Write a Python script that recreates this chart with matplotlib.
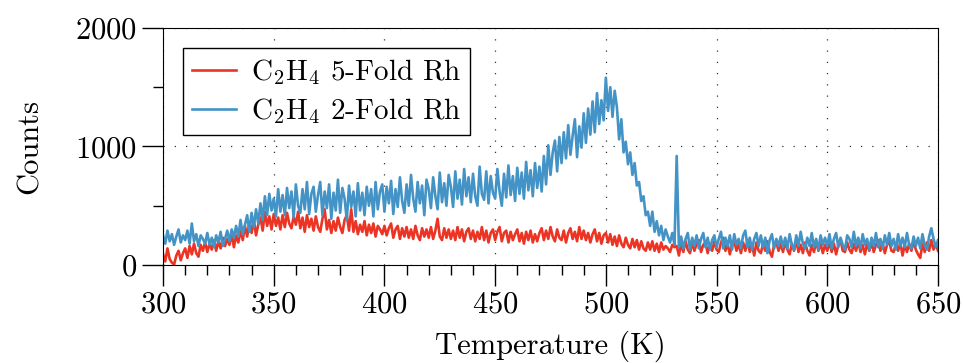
import matplotlib
matplotlib.use("Agg")
import matplotlib.pyplot as plt
import numpy as np
from matplotlib.ticker import MultipleLocator

plt.rcParams['font.family'] = 'serif'
plt.rcParams['font.serif'] = ['cmr10']
plt.rcParams['mathtext.fontset'] = 'cm'
plt.rcParams['axes.formatter.use_mathtext'] = True

# temperature axis, 1 K steps
temps = np.arange(300, 651, 1)

# C2H4 on 2-fold Rh (blue)
counts_2fold = [
    250, 180, 290, 200, 260, 170, 240, 300, 190, 250,
    210, 290, 180, 350, 200, 260, 160, 250, 220, 180,
    270, 170, 230, 150, 250, 190, 280, 160, 220, 290,
    200, 300, 230, 330, 240, 380, 260, 340, 420, 280,
    440, 320, 470, 350, 520, 380, 580, 420, 600, 460,
    560, 410, 640, 450, 590, 420, 650, 480, 620, 400,
    680, 500, 440, 640, 470, 700, 430, 600, 660, 450,
    590, 700, 420, 620, 480, 680, 390, 610, 460, 720,
    440, 650, 560, 380, 670, 490, 620, 410, 690, 460,
    610, 420, 660, 500, 640, 410, 700, 470, 620, 680,
    450, 660, 520, 710, 430, 640, 490, 740, 540, 440,
    680, 500, 760, 560, 450, 700, 520, 670, 420, 720,
    640, 480, 740, 580, 470, 780, 530, 690, 500, 760,
    660, 490, 790, 560, 720, 510, 810, 580, 740, 530,
    770, 580, 500, 830, 600, 550, 790, 520, 750, 610,
    560, 810, 620, 500, 770, 570, 840, 590, 750, 540,
    820, 600, 780, 560, 870, 630, 800, 580, 860, 650,
    830, 620, 920, 680, 1010, 760, 950, 1050, 790, 1080,
    860, 1120, 900, 1180, 930, 1090, 1230, 910, 1170, 990,
    1280, 1030, 1320, 1100, 1380, 1120, 1450, 1190, 1390, 1220,
    1580, 1300, 1500, 1250, 1470, 1330, 1060, 1230, 950, 1040,
    850, 950, 760, 860, 670, 700, 540, 580, 420, 450,
    330, 450, 280, 370, 250, 330, 210, 300, 240, 190,
    270, 170, 920, 150, 240, 140, 220, 270, 130, 230,
    160, 250, 140, 220, 270, 150, 230, 130, 210, 250,
    150, 220, 280, 140, 230, 160, 250, 130, 260, 170,
    220, 140, 250, 290, 150, 230, 130, 220, 270, 160,
    250, 150, 230, 100, 210, 260, 140, 220, 160, 240,
    150, 230, 140, 260, 170, 130, 250, 160, 280, 180,
    140, 230, 160, 270, 150, 220, 130, 250, 170, 230,
    160, 260, 140, 220, 270, 150, 230, 170, 130, 250,
    220, 150, 280, 160, 230, 140, 260, 170, 220, 130,
    230, 160, 270, 150, 220, 140, 250, 170, 270, 160,
    220, 130, 260, 160, 230, 150, 270, 170, 140, 240,
    160, 230, 140, 260, 170, 130, 240, 310, 220, 150,
    210,
]

# C2H4 on 5-fold Rh (red)
counts_5fold = [
    90, 30, 140, 50, 20, 5, 80, 120, 40, 100,
    140, 60, 160, 90, 180, 100, 70, 170, 120, 190,
    110, 180, 130, 210, 120, 200, 140, 230, 160, 220,
    170, 260, 150, 250, 190, 290, 210, 330, 240, 360,
    270, 380, 250, 340, 400, 290, 450, 330, 410, 300,
    430, 330, 400, 300, 420, 320, 440, 350, 310, 410,
    340, 450, 310, 400, 280, 420, 320, 390, 290, 410,
    320, 280, 390, 470, 300, 380, 270, 370, 290, 400,
    320, 270, 380, 420, 290, 470, 280, 370, 260, 340,
    280, 370, 250, 340, 270, 350, 240, 330, 300, 260,
    330, 250, 310, 350, 230, 300, 330, 220, 310, 240,
    320, 230, 300, 220, 330, 250, 210, 310, 240, 300,
    230, 320, 220, 290, 390, 240, 210, 310, 230, 300,
    220, 290, 210, 320, 230, 300, 200, 280, 310, 220,
    290, 200, 280, 220, 320, 210, 290, 190, 270, 300,
    210, 280, 320, 200, 270, 290, 190, 280, 210, 260,
    300, 200, 270, 180, 280, 210, 290, 190, 260, 200,
    270, 310, 210, 290, 220, 320, 240, 200, 300, 230,
    210, 290, 190, 270, 310, 220, 280, 200, 320, 220,
    290, 210, 270, 190, 260, 300, 200, 270, 180, 250,
    270, 190, 260, 170, 240, 160, 250, 180, 150, 230,
    170, 140, 220, 150, 210, 130, 200, 140, 120, 190,
    130, 200, 120, 180, 110, 190, 130, 160, 140, 110,
    170, 150, 160, 80, 180, 110, 200, 130, 100, 190,
    120, 180, 210, 110, 170, 190, 100, 180, 120, 200,
    130, 110, 190, 230, 120, 180, 90, 170, 200, 120,
    180, 100, 190, 120, 210, 110, 170, 80, 190, 120,
    100, 180, 120, 200, 110, 70, 170, 190, 120, 180,
    110, 190, 130, 90, 180, 120, 210, 110, 170, 100,
    190, 120, 80, 170, 110, 200, 120, 180, 100, 170,
    120, 190, 110, 180, 90, 170, 210, 120, 110, 190,
    130, 100, 180, 120, 200, 110, 170, 90, 180, 120,
    190, 110, 170, 210, 120, 180, 100, 170, 200, 120,
    110, 180, 120, 190, 80, 170, 110, 180, 120, 200,
    130, 90, 60, 180, 110, 190, 120, 210, 130, 180,
    120,
]

fig = plt.figure(figsize=(9.63, 3.63), dpi=100)
ax = fig.add_axes([0.1693, 0.270, 0.8047, 0.653])

ax.plot(temps, counts_5fold, color='#ec3424', lw=1.9, label=r'C$_2$H$_4$ 5-Fold Rh')
ax.plot(temps, counts_2fold, color='#4393c6', lw=1.9, label=r'C$_2$H$_4$ 2-Fold Rh')

ax.set_xlim(300, 650)
ax.set_ylim(0, 2000)
ax.xaxis.set_major_locator(MultipleLocator(50))
ax.xaxis.set_minor_locator(MultipleLocator(10))
ax.yaxis.set_major_locator(MultipleLocator(1000))
ax.yaxis.set_minor_locator(MultipleLocator(500))
ax.tick_params(which='both', direction='out', labelsize=22, top=False, right=False)
ax.tick_params(which='major', length=15, width=1)
ax.tick_params(which='minor', length=7, width=1)
ax.grid(True, which='major', color='#333333', lw=0.9, linestyle=(0, (1, 8)))

ax.set_xlabel('Temperature (K)', fontsize=22, labelpad=9)
ax.set_ylabel('Counts', fontsize=22, labelpad=23)

leg = ax.legend(loc='upper left', fontsize=21, fancybox=False, framealpha=1,
                edgecolor='black', handlelength=1.5, handletextpad=0.5,
                borderpad=0.3, labelspacing=0.3, borderaxespad=0.7)
leg.get_frame().set_linewidth(1.0)

fig.savefig('out.png', dpi=100)
